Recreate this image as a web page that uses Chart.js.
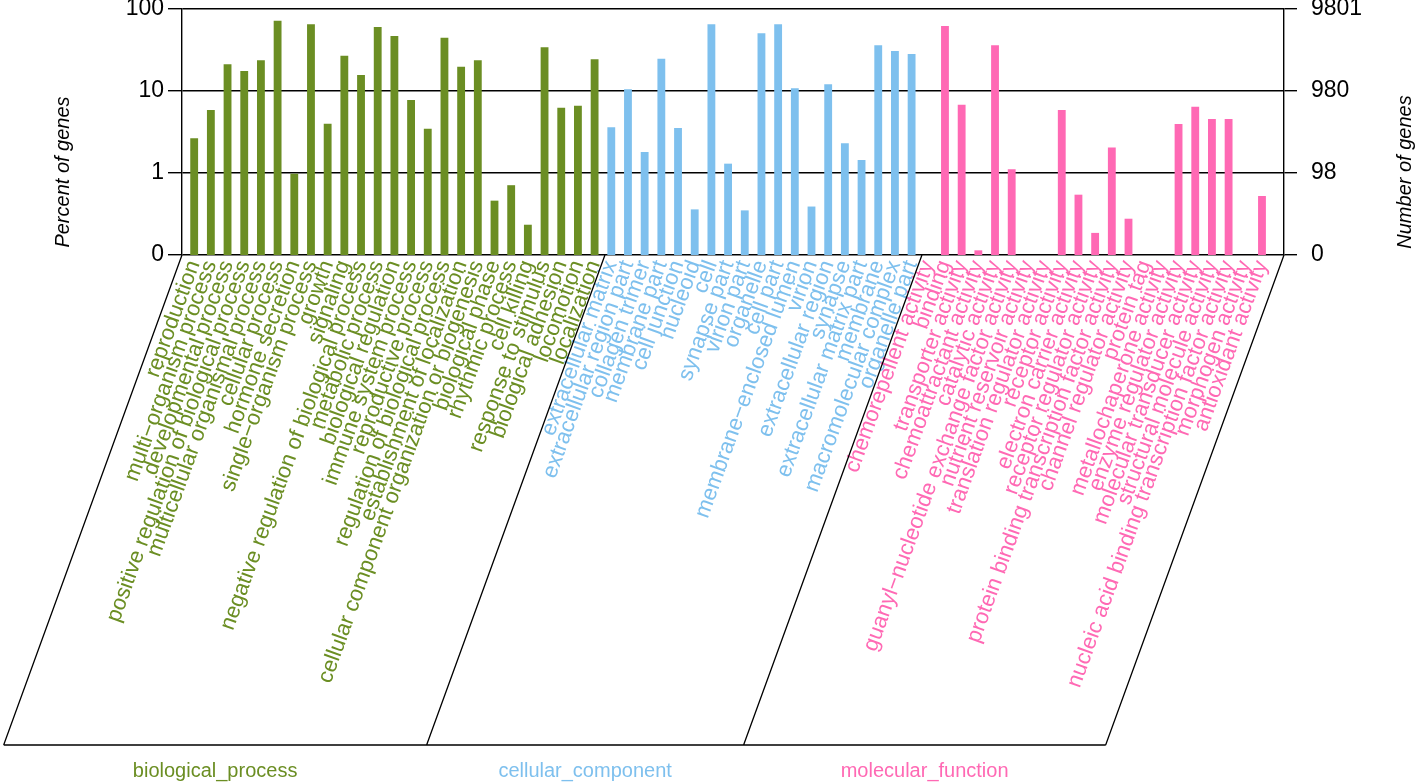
<!DOCTYPE html>
<html>
<head>
<meta charset="utf-8">
<title>GO classification</title>
<script src="https://cdn.jsdelivr.net/npm/chart.js@4.4.1/dist/chart.umd.min.js"></script>
<style>
  html, body { margin: 0; padding: 0; background: #fff; }
  #wrap { width: 1418px; height: 784px; }
</style>
</head>
<body>
<div id="wrap"><canvas id="goChart"></canvas></div>
<script>
// GO terms, grouped by ontology (order as on the axis)
const bpTerms = [
    'reproduction', 'multi−organism process', 'developmental process',
    'positive regulation of biological process', 'multicellular organismal process',
    'cellular process', 'hormone secretion', 'single−organism process', 'growth',
    'signaling', 'negative regulation of biological process', 'metabolic process',
    'biological regulation', 'immune system process', 'reproductive process',
    'regulation of biological process', 'establishment of localization',
    'cellular component organization or biogenesis', 'biological phase',
    'rhythmic process', 'cell killing', 'response to stimulus', 'biological adhesion',
    'locomotion', 'localization'
];
const bpValues = [2.65, 5.87, 21.2, 17.5, 23.7, 72, 0.98, 65, 4.0, 26.9, 15.7, 60.3,
    46.9, 7.77, 3.47, 44.7, 19.8, 23.7, 0.46, 0.71, 0.234, 34.1, 6.26, 6.62, 24.4];

const ccTerms = [
    'extracellular matrix', 'extracellular region part', 'collagen trimer', 'membrane part',
    'cell junction', 'nucleoid', 'cell', 'synapse part', 'virion part', 'organelle',
    'cell part', 'membrane−enclosed lumen', 'virion', 'extracellular region', 'synapse',
    'extracellular matrix part', 'membrane', 'macromolecular complex', 'organelle part'
];
const ccValues = [3.61, 10.5, 1.80, 24.8, 3.54, 0.36, 65, 1.30, 0.35, 50.5, 65, 10.8,
    0.39, 12.1, 2.30, 1.44, 36.1, 30.7, 28.3];

const mfTerms = [
    'chemorepellent activity', 'binding', 'transporter activity', 'chemoattractant activity',
    'catalytic activity', 'guanyl−nucleotide exchange factor activity',
    'nutrient reservoir activity', 'translation regulator activity', 'receptor activity',
    'electron carrier activity', 'receptor regulator activity',
    'protein binding transcription factor activity', 'channel regulator activity',
    'protein tag', 'metallochaperone activity', 'enzyme regulator activity',
    'molecular transducer activity', 'structural molecule activity',
    'nucleic acid binding transcription factor activity', 'morphogen activity',
    'antioxidant activity'
];
const mfValues = [null, 62, 6.81, 0.114, 36.1, 1.11, null, null, 5.87, 0.544, 0.186,
    2.04, 0.277, null, null, 3.96, 6.44, 4.56, 4.56, null, 0.524];

const groupNames = ['biological_process', 'cellular_component', 'molecular_function'];
const groupColors = ['#6B8E23', '#7EC0EE', '#FF69B4'];

// log axis: "0" sits one decade below 1%
const yTickValues = [0.1, 1, 10, 100];
const leftTickLabels = ['0', '1', '10', '100'];
const rightTickLabels = ['0', '98', '980', '9801'];

const FONT = "'Liberation Sans', Arial, Helvetica, sans-serif";
const LABEL_ANGLE = 70;

const terms = bpTerms.concat(ccTerms, mfTerms);
const values = bpValues.concat(ccValues, mfValues);
const groupSizes = [bpTerms.length, ccTerms.length, mfTerms.length];
const groupOf = terms.map((t, i) => i < groupSizes[0] ? 0 : (i < groupSizes[0] + groupSizes[1] ? 1 : 2));

// parallelogram frame under the axis + group names + axis titles
const goFrame = {
    id: 'goFrame',
    afterDraw(chart) {
        const { ctx, chartArea: area, scales } = chart;
        const x = scales.x;
        const depth = 490;
        const shift = depth / Math.tan(LABEL_ANGLE * Math.PI / 180);
        const bottomY = area.bottom + depth;

        const cuts = [area.left];
        let n = 0;
        for (let g = 0; g < groupSizes.length - 1; g++) {
            n += groupSizes[g];
            cuts.push(x.getPixelForValue(n - 0.5) + 2);
        }
        cuts.push(area.right);

        ctx.save();
        ctx.strokeStyle = '#000';
        ctx.lineWidth = 1.3;
        ctx.beginPath();
        cuts.forEach(cx => {
            ctx.moveTo(cx, area.bottom);
            ctx.lineTo(cx - shift, bottomY);
        });
        ctx.moveTo(cuts[0] - shift, bottomY);
        ctx.lineTo(cuts[cuts.length - 1] - shift, bottomY);
        ctx.stroke();

        ctx.font = '20px ' + FONT;
        ctx.textAlign = 'center';
        ctx.textBaseline = 'middle';
        for (let g = 0; g < groupNames.length; g++) {
            ctx.fillStyle = groupColors[g];
            ctx.fillText(groupNames[g], (cuts[g] + cuts[g + 1]) / 2 - shift, bottomY + 26);
        }

        // axis titles
        ctx.fillStyle = '#000';
        ctx.font = 'italic 20px ' + FONT;
        const midY = area.bottom - 83;
        [[63, 'Percent of genes'], [chart.width - 13, 'Number of genes']].forEach(([tx, txt]) => {
            ctx.save();
            ctx.translate(tx, midY);
            ctx.rotate(-Math.PI / 2);
            ctx.fillText(txt, 0, 0);
            ctx.restore();
        });
        ctx.restore();
    }
};

const logTicks = labels => ({
    afterBuildTicks: scale => { scale.ticks = yTickValues.map(v => ({ value: v })); },
    callback: (v) => labels[yTickValues.indexOf(v)]
});

const leftTicks = logTicks(leftTickLabels);
const rightTicks = logTicks(rightTickLabels);

new Chart(document.getElementById('goChart'), {
    type: 'bar',
    data: {
        datasets: [{
            data: values.map((v, i) => ({ x: i, y: v })),
            backgroundColor: groupOf.map(g => groupColors[g]),
            borderWidth: 0,
            barPercentage: 0.47,
            categoryPercentage: 1,
            yAxisID: 'y'
        }]
    },
    options: {
        responsive: true,
        maintainAspectRatio: false,
        animation: false,
        layout: { padding: { top: 9, left: 0, right: 0, bottom: 0 } },
        plugins: {
            legend: { display: false },
            tooltip: { enabled: false }
        },
        scales: {
            x: {
                type: 'linear',
                offset: false,
                min: -0.73,
                max: 65.32,
                grid: { display: false, drawTicks: false },
                border: { display: false },
                afterBuildTicks: scale => { scale.ticks = terms.map((t, i) => ({ value: i })); },
                afterFit: scale => {
                    scale.height = 529;
                    scale.paddingLeft = 0;
                    scale.paddingRight = 0;
                },
                ticks: {
                    autoSkip: false,
                    minRotation: LABEL_ANGLE,
                    maxRotation: LABEL_ANGLE,
                    padding: 2,
                    font: { family: FONT, size: 22 },
                    color: c => groupColors[groupOf[c.index]],
                    callback: v => terms[v]
                }
            },
            y: {
                type: 'logarithmic',
                position: 'left',
                min: 0.1,
                max: 100,
                beginAtZero: false,
                afterBuildTicks: leftTicks.afterBuildTicks,
                afterFit: scale => {
                    scale.width = 182;
                    scale.paddingTop = 0;
                    scale.paddingBottom = 0;
                },
                grid: { color: '#000', lineWidth: 1.4, tickLength: 14, drawTicks: true },
                border: { display: true, color: '#000', width: 1.4 },
                ticks: {
                    padding: 4,
                    color: '#000',
                    font: { family: FONT, size: 23 },
                    callback: leftTicks.callback
                }
            },
            y2: {
                type: 'logarithmic',
                position: 'right',
                min: 0.1,
                max: 100,
                afterBuildTicks: rightTicks.afterBuildTicks,
                afterFit: scale => {
                    scale.width = 134;
                    scale.paddingTop = 0;
                    scale.paddingBottom = 0;
                },
                grid: { color: '#000', lineWidth: 1.4, tickLength: 13, drawOnChartArea: false, drawTicks: true },
                border: { display: true, color: '#000', width: 1.4 },
                ticks: {
                    padding: 14,
                    color: '#000',
                    font: { family: FONT, size: 23 },
                    callback: rightTicks.callback
                }
            }
        }
    },
    plugins: [goFrame]
});
</script>
</body>
</html>
